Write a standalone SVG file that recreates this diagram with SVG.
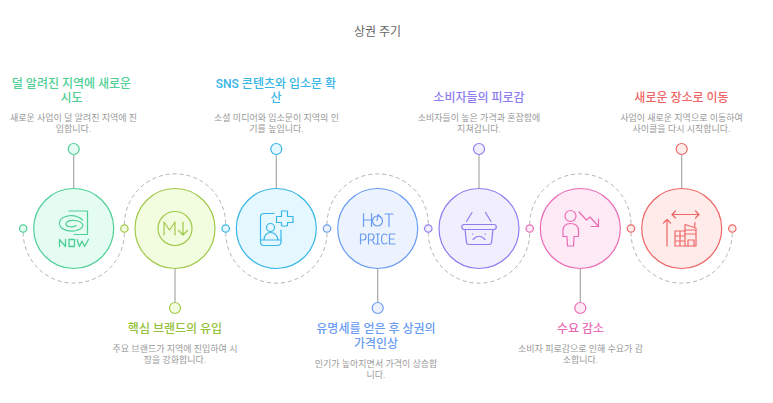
<svg xmlns="http://www.w3.org/2000/svg" width="773" height="403" viewBox="0 0 773 403">
<style>
text{font-family:"Roboto","Noto Sans CJK KR",sans-serif;text-anchor:middle}
.t{font-size:12px;fill:#666}
.h{font-size:12px;font-weight:500}
.d{font-size:9px;fill:#999}
.arc{fill:none;stroke:#b3b3b3;stroke-width:1;stroke-dasharray:4 3}
.stem{stroke:#a8a8a8;stroke-width:1.2;fill:none}
circle{stroke-width:1.2}
.ic{fill:none;stroke-width:1.2;stroke-linecap:round;stroke-linejoin:round}
.g{stroke:#4fcf95}.l{stroke:#a0c94a}.c{stroke:#38b6e6}.b{stroke:#6a9cf2}.p{stroke:#8d7cf0}.k{stroke:#ea6bb5}.r{stroke:#ee6666}
.gf{fill:#e4fcf2}.lf{fill:#f2fde0}.cf{fill:#e6f8ff}.bf{fill:#ecf3ff}.pf{fill:#f1effe}.kf{fill:#feeaf6}.rf{fill:#ffecea}
.gt{fill:#4fcf95}.lt{fill:#93c13c}.ct{fill:#38b6e6}.bt{fill:#6a9cf2}.pt{fill:#8d7cf0}.kt{fill:#ea6bb5}.rt{fill:#ee6666}
</style>
<text class="t" x="377.500" y="36">상권 주기</text>
<g id="connectors">
<path class="arc" d="M23.200 232.500A50.600 50.600 0 0 0 124.400 232.500"/>
<path class="arc" d="M124.400 224.500A50.600 50.600 0 0 1 225.700 224.500"/>
<path class="arc" d="M225.700 232.500A50.600 50.600 0 0 0 327 232.500"/>
<path class="arc" d="M327 224.500A50.600 50.600 0 0 1 428.300 224.500"/>
<path class="arc" d="M428.300 232.500A50.600 50.600 0 0 0 529.700 232.500"/>
<path class="arc" d="M529.700 224.500A50.600 50.600 0 0 1 631 224.500"/>
<path class="arc" d="M631 232.500A50.600 50.600 0 0 0 732.300 232.500"/>
<path class="stem" d="M73.700 155V188.500M175 268.500V302M276.300 155V188.500M377.700 268.500V302M479 155V188.500M580.300 268.500V302M681.700 155V188.500"/>
</g>
<g id="node1">
<circle class="g gf" cx="73.700" cy="228.500" r="40"/>
<circle class="g gf" cx="23.200" cy="228.500" r="3.700"/>
<circle class="g gf" cx="73.700" cy="149" r="5.500"/>
<g class="ic g">
<path d="M69 211H87.500V234.500H74"/>
<path d="M82.500 220C75 213 62 215 59.500 222C58.500 228 66 232 74 231C79 230 83 228 83 225C81 219.500 68 219 66 223.500C65.500 227 73 228 76 225.500"/>
<path d="M59.500 246.500V239.500L65.500 246.500V239.500M69 239.500H74.500V246.500H69ZM77 239.500L79.500 246.500L82 241L84.500 246.500L88.500 239.500" stroke-width="1.300"/>
</g>
<text class="h gt" x="71.500" y="87.500">덜 알려진 지역에 새로운</text>
<text class="h gt" x="71.500" y="102">시도</text>
<text class="d" x="73.500" y="121">새로운 사업이 덜 알려진 지역에 진</text>
<text class="d" x="73.500" y="132">입합니다.</text>
</g>
<g id="node2">
<circle class="l lf" cx="175" cy="228.500" r="40"/>
<circle class="l lf" cx="124.400" cy="228.500" r="3.700"/>
<circle class="l lf" cx="175" cy="308" r="5.500"/>
<g class="ic l">
<circle cx="175" cy="228.500" r="17"/>
<path d="M164 235V222L169.500 230L175 222V235M183 222V235M178.500 230.500L183 235L187.500 230.500"/>
</g>
<text class="h lt" x="175" y="333">핵심 브랜드의 유입</text>
<text class="d" x="175" y="352">주요 브랜드가 지역에 진입하여 시</text>
<text class="d" x="175" y="363">장을 강화합니다.</text>
</g>
<g id="node3">
<circle class="c cf" cx="276.300" cy="228.500" r="40"/>
<circle class="c cf" cx="225.700" cy="228.500" r="3.700"/>
<circle class="c cf" cx="276.300" cy="149" r="5.500"/>
<g class="ic c">
<path d="M274 213.500H264Q260.500 213.500 260.500 217V242Q260.500 245.500 264 245.500H277Q281 245.500 281 242V230"/>
<circle cx="270.500" cy="227.500" r="4"/>
<path d="M261 240H281M264 240C264 230 277 230 278 240"/>
<path d="M282 211.500H288V217H293.500V223H288V226Q285 227.500 282 226V223H277V217H282Z" transform="translate(-0.500 -0.500)"/>
</g>
<text class="h ct" x="276" y="87.500">SNS 콘텐츠와 입소문 확</text>
<text class="h ct" x="276" y="102">산</text>
<text class="d" x="276.500" y="121">소셜 미디어와 입소문이 지역의 인</text>
<text class="d" x="276.500" y="132">기를 높입니다.</text>
</g>
<g id="node4">
<circle class="b bf" cx="377.700" cy="228.500" r="40"/>
<circle class="b bf" cx="327" cy="228.500" r="3.700"/>
<circle class="b bf" cx="377.700" cy="308" r="5.500"/>
<g class="ic b">
<path d="M363.500 213.500V226.500M371.500 213.500V226.500M363.500 220H371.500"/>
<circle cx="377.500" cy="221" r="5"/>
<path d="M377 220.500L378 214.500L380.500 217"/>
<path d="M385 214H393M389 214V226.500"/>
<path d="M360.500 244V234H363.500Q366 234 366 237Q366 240 363.500 240H360.500M368.500 244V234H371.500Q374 234 374 237Q374 240 371.500 240H368.500M372 240L374.500 244M376 234H379.500M377.700 234V244M376 244H379.500M387 235Q385.500 234 384.500 234Q381.500 234 381.500 239Q381.500 244 384.500 244Q385.500 244 387 243M389.500 234H395M389.500 234V244H395M389.500 239H394"/>
</g>
<text class="h bt" x="376" y="333">유명세를 얻은 후 상권의</text>
<text class="h bt" x="376" y="348">가격인상</text>
<text class="d" x="376" y="367">인기가 높아지면서 가격이 상승합</text>
<text class="d" x="376" y="378">니다.</text>
</g>
<g id="node5">
<circle class="p pf" cx="479" cy="228.500" r="40"/>
<circle class="p pf" cx="428.300" cy="228.500" r="3.700"/>
<circle class="p pf" cx="479" cy="149" r="5.500"/>
<g class="ic p">
<path d="M472 212.500L466.500 221.500M485.500 212.500L491 221.500"/>
<rect x="461.800" y="224.500" width="34.500" height="5" rx="2.500"/>
<path d="M465 229.500L466.500 242.500Q466.800 244.500 469 244.500H489Q491.200 244.500 491.500 242.500L493 229.500"/>
<path d="M473 239.500Q479 233 485 239.500M472.500 234H473M485 234H485.500"/>
</g>
<text class="h pt" x="479" y="102">소비자들의 피로감</text>
<text class="d" x="479" y="121">소비자들이 높은 가격과 혼잡함에</text>
<text class="d" x="479" y="132">지쳐갑니다.</text>
</g>
<g id="node6">
<circle class="k kf" cx="580.300" cy="228.500" r="40"/>
<circle class="k kf" cx="529.700" cy="228.500" r="3.700"/>
<circle class="k kf" cx="580.300" cy="308" r="5.500"/>
<g class="ic k">
<circle cx="570.500" cy="216" r="5.500"/>
<path d="M567.500 246H573.500L574 236.500H578.500V231Q578.500 223.500 570.500 223.500Q563 223.500 563 231V236.500H567Z"/>
<path d="M579 212L586.500 220L590 217L598.500 226.500M598.500 219V226.500H591"/>
</g>
<text class="h kt" x="580.500" y="333">수요 감소</text>
<text class="d" x="580.500" y="352">소비자 피로감으로 인해 수요가 감</text>
<text class="d" x="580.500" y="363">소합니다.</text>
</g>
<g id="node7">
<circle class="r rf" cx="681.700" cy="228.500" r="40"/>
<circle class="r rf" cx="631" cy="228.500" r="3.700"/>
<circle class="r rf" cx="732.300" cy="228.500" r="3.700"/>
<circle class="r rf" cx="681.700" cy="149" r="5.500"/>
<g class="ic r">
<path d="M672 214.500H699M675.500 211L672 214.500L675.500 218M695.500 211L699 214.500L695.500 218"/>
<path d="M667 246V219.500M663.500 223L667 219.500L670.500 223"/>
<path d="M675 231H685V246H675ZM675 236H685M675 241H685M680 231V246"/>
<path d="M685 231V224.500L696 228V246H685M694.500 227.500L695 222.500M685 230H696M685 234H696"/>
<path d="M688 246V240H694V246"/>
</g>
<text class="h rt" x="681.500" y="102">새로운 장소로 이동</text>
<text class="d" x="681.500" y="121">사업이 새로운 지역으로 이동하여</text>
<text class="d" x="681.500" y="132">사이클을 다시 시작합니다.</text>
</g>
</svg>
